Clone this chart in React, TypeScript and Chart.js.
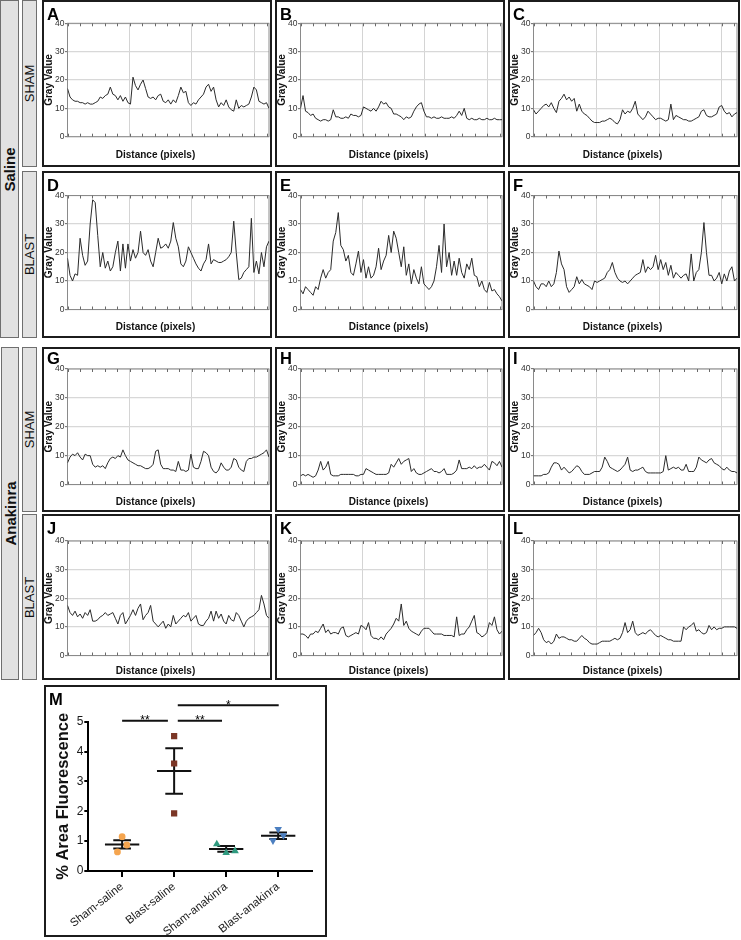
import React, { useEffect, useRef } from "react";
import { Chart, registerables } from "chart.js";

Chart.register(...registerables);

const SANS = '"Liberation Sans", Arial, Helvetica, sans-serif';

// ---------- intensity profiles (gray value along the line) ----------
const PROFILE_A = [
  17, 14, 13, 12.5, 12.5, 12, 12, 11.5, 12, 11.5,
  11.5, 12, 12.5, 14, 13.5, 14.5, 15, 17.5, 15, 14.5,
  13, 14.5, 12.5, 14, 12, 11.5, 21, 18, 16.5, 18.5,
  20, 17, 14, 13.5, 14, 13, 14.5, 15, 12.5, 12,
  13, 11.5, 13, 12, 14.5, 17.5, 15.5, 16, 12, 11,
  12, 11.5, 13, 14, 15, 17.5, 18.5, 16, 17.5, 13,
  10.5, 12, 11, 13, 10.5, 9.5, 9, 13, 10, 11,
  10.5, 11, 11.5, 14, 17.5, 16.5, 12.5, 12, 11.5, 12,
  10,
];
const PROFILE_B = [
  10, 14.5, 9, 8.5, 7.5, 8, 6.5, 6, 5.5, 6,
  6, 5.5, 6, 9.5, 7, 7, 6.5, 6.5, 7, 6.5,
  8, 7.5, 7.5, 7, 7.5, 10.5, 10, 9.5, 9, 10,
  9, 10.5, 12.5, 11.5, 12, 10.5, 10, 8, 8, 7.5,
  7, 6, 7, 6.5, 7, 9, 10.5, 11.5, 12, 9,
  7, 7, 6.5, 7, 6.5, 6.5, 7, 6.5, 6.5, 6.5,
  7, 6.5, 7.5, 9, 7.5, 10, 6.5, 6, 6.5, 6,
  6, 6.5, 6, 6, 6.5, 6, 6, 6.5, 6, 6,
  6,
];
const PROFILE_C = [
  9.5, 8, 9, 10, 11, 11.5, 10.5, 12, 10, 8.5,
  12.5, 13.5, 15, 13, 14, 12.5, 13.5, 9, 11.5, 9,
  8, 7.5, 6.5, 5.5, 5, 5, 5, 5.5, 5.5, 6,
  6.5, 6, 5, 4.5, 6, 9.5, 8, 9, 8.5, 10,
  12.5, 8, 7, 6, 7, 9, 8, 7, 6, 6.5,
  6.5, 6, 5.5, 6, 11.5, 6, 7.5, 7, 6.5, 6,
  6, 5.5, 5.5, 6, 6.5, 7, 9, 9.5, 7.5, 7,
  7, 7.5, 8, 10.5, 11, 9, 8, 8.5, 7, 8,
  8.5,
];
const PROFILE_D = [
  18, 12, 10, 12.5, 12, 25, 19, 15.5, 17, 30,
  38.5, 37.5, 26, 15, 20, 14.5, 17, 13.5, 15, 20,
  24, 13.5, 23, 14.5, 23, 17, 21, 18, 20, 27.5,
  20, 19, 21, 17, 15, 20, 25, 21.5, 22, 23,
  21.5, 24, 30.5, 25, 22, 16, 15, 17, 22, 20,
  18, 16, 14.5, 13.5, 16, 17.5, 23, 16, 17.5, 17,
  16.5, 16.5, 17, 17.5, 18.5, 20, 31, 20, 10.5, 11,
  13, 14, 15, 32, 13, 17, 12.5, 20, 15, 22,
  24,
];
const PROFILE_E = [
  7, 5.5, 8, 7, 6, 5, 8, 7, 11, 14,
  11, 13, 14, 24, 27, 34, 22.5, 21, 17, 19,
  13, 12, 16, 20.5, 13, 17.5, 11, 15, 11, 12,
  15, 21.5, 14, 17, 19, 26, 20, 27.5, 25, 20,
  15, 22, 12, 16, 9, 14, 11, 9, 15, 9,
  8, 7, 8, 10, 15, 22.5, 13, 30, 15, 20,
  12, 17, 12, 18, 13, 11, 16, 14, 18, 12,
  11.5, 8, 10, 7, 6, 9.5, 6.5, 7, 5.5, 4.5,
  3,
];
const PROFILE_F = [
  10, 8, 7, 9, 9, 8, 10, 8, 9, 13,
  20.5, 16, 14, 8, 6, 7, 8, 11.5, 9, 10.5,
  9, 8.5, 8, 7, 10, 9.5, 10, 10.5, 11, 13,
  14, 16.5, 13, 11, 10, 9.5, 10, 9, 10, 11,
  12, 12.5, 13, 17.5, 13, 15, 14, 15, 19, 14,
  17.5, 14, 16.5, 12, 15.5, 11, 13, 12, 11, 12,
  12.5, 10, 19.5, 10, 13, 14, 20, 30.5, 20, 12,
  12, 10, 11, 13, 9, 12.5, 10, 13.5, 15, 10,
  11,
];
const PROFILE_G = [
  7.5, 9.5, 10.5, 10, 11, 9.5, 8.5, 10.5, 10, 10,
  7, 6, 6.5, 6, 6.5, 5.5, 7.5, 9, 9.5, 9,
  10, 9.5, 12, 10, 8.5, 8, 7.5, 7, 6.5, 6.5,
  6, 5.5, 5.5, 6, 7, 11.5, 12, 7, 5.5, 5.5,
  5.5, 5, 5, 4.5, 8, 5, 5, 4.5, 5, 10.5,
  6, 5.5, 5.5, 8, 11.5, 11, 10, 6, 4.5, 4,
  5, 7.5, 6, 5, 5, 6, 9, 8.5, 6, 5,
  4.5, 8, 9, 9, 9.5, 9.5, 10, 10.5, 11, 12,
  9.5,
];
const PROFILE_H = [
  3, 3.5, 3, 3.5, 3, 2.5, 3, 5, 8, 5,
  6, 8, 3.5, 3, 3, 3, 3.5, 3.5, 3.5, 3.5,
  3.5, 3.5, 3, 3, 3.5, 3.5, 5.5, 5, 4.5, 4,
  3.5, 3.5, 3.5, 3.5, 3.5, 4, 7, 6, 7.5, 9,
  7, 8, 8.5, 9, 4.5, 5.5, 4, 3.5, 3.5, 4,
  4.5, 5, 5.5, 4.5, 4.5, 4, 4.5, 5.5, 3.5, 3.5,
  3.5, 4, 5, 8.5, 5.5, 5.5, 5.5, 6, 5.5, 6.5,
  5.5, 6, 6, 7, 6, 5, 8, 7.5, 6.5, 8,
  6,
];
const PROFILE_I = [
  3, 3, 3, 3, 3.5, 3.5, 4, 6, 7.5, 7.5,
  7, 5, 6, 5, 4, 4.5, 5.5, 6.5, 6, 4.5,
  3.5, 3.5, 3.5, 4, 4.5, 4.5, 4.5, 6, 9.5, 8,
  6, 5.5, 5, 4.5, 5, 6, 7, 9.5, 5, 4.5,
  5, 5, 5.5, 6, 4.5, 4, 4, 4, 4, 4,
  4, 4.5, 10, 5, 5.5, 6, 5.5, 6, 5, 5,
  7, 4.5, 4.5, 4.5, 6, 9.5, 8.5, 8, 7.5, 8.5,
  9, 7.5, 7, 6.5, 5.5, 5, 6, 5, 4.5, 4.5,
  4,
];
const PROFILE_J = [
  17.5, 15, 14, 15.5, 13.5, 14.5, 13, 15, 14, 16,
  12, 12, 12.5, 13.5, 14, 15, 14, 14.5, 15, 13,
  11, 14, 15, 11, 12.5, 14, 16, 14, 16.5, 18,
  12.5, 14, 15, 17.5, 12, 11, 10, 11, 12, 9.5,
  11, 10, 14, 11, 12, 13, 14, 13.5, 15, 12,
  13, 14, 11, 10.5, 10.5, 12, 13, 15.5, 12, 15.5,
  13, 14.5, 12, 11, 14, 12.5, 12, 15, 14, 12,
  10, 12, 13, 13.5, 14, 15, 16, 21, 18, 14,
  13,
];
const PROFILE_K = [
  7.5, 7.5, 7, 6, 7.5, 7.5, 8.5, 8, 9.5, 11,
  8, 9, 7.5, 8, 8, 7.5, 9.5, 10, 7, 6.5,
  7, 7.5, 8, 7.5, 10.5, 10, 9, 11.5, 7, 6,
  6, 5.5, 6.5, 5.5, 7.5, 8.5, 9.5, 11, 13, 12,
  18, 10.5, 12, 9.5, 8.5, 8, 7.5, 7, 8.5, 9.5,
  9.5, 9.5, 8.5, 7.5, 7.5, 7.5, 7.5, 7, 7, 7,
  7, 6.5, 13.5, 7, 7.5, 7.5, 9, 10, 12, 14,
  8, 7.5, 6.5, 7, 8, 11.5, 10.5, 13.5, 9, 7.5,
  8.5,
];
const PROFILE_L = [
  7, 8, 9.5, 8, 5.5, 4.5, 5, 4, 5, 7.5,
  6, 6.5, 6.5, 6, 5.5, 5.5, 5, 5, 6, 7,
  6, 5.5, 4.5, 4, 4, 4, 4.5, 5, 5, 5,
  5, 5.5, 6, 5.5, 6, 8, 11.5, 8, 9, 12,
  8, 7, 7.5, 8, 7.5, 8.5, 9, 8, 7, 6.5,
  7, 6.5, 6, 5.5, 5.5, 5, 5, 5, 5, 10,
  9, 10, 10.5, 11.5, 8.5, 9, 8, 7.5, 8, 10.5,
  9, 10, 9, 9.5, 9.5, 10, 10, 10, 10, 10,
  9.5,
];

const PANEL_LETTERS = ["A", "B", "C", "D", "E", "F", "G", "H", "I", "J", "K", "L"];
const PROFILES = [
  PROFILE_A, PROFILE_B, PROFILE_C, PROFILE_D, PROFILE_E, PROFILE_F,
  PROFILE_G, PROFILE_H, PROFILE_I, PROFILE_J, PROFILE_K, PROFILE_L,
];

const DIST_MAX = 324;
const Y_TICKS = [0, 10, 20, 30, 40];
const X_MAJOR = [0, 100, 200, 300];
const X_MINOR = [20, 40, 60, 80, 120, 140, 160, 180, 220, 240, 260, 280, 320];

// ---------- panel M data ----------
const GROUPS = ["Sham-saline", "Blast-saline", "Sham-anakinra", "Blast-anakinra"];
const SHAM_SALINE = [1.15, 0.87, 0.64];
const BLAST_SALINE = [4.52, 3.6, 1.93];
const SHAM_ANAKINRA = [0.9, 0.61, 0.67];
const BLAST_ANAKINRA = [1.4, 1.19, 1.02];
const SHAM_SALINE_DX = [0, 0.09, -0.09];
const BLAST_SALINE_DX = [0, 0, 0];
const SHAM_ANAKINRA_DX = [-0.18, 0, 0.17];
const BLAST_ANAKINRA_DX = [0, 0.1, -0.1];
const GROUP_MEANS = [0.89, 3.35, 0.74, 1.18];
const GROUP_SEMS = [0.14, 0.76, 0.095, 0.11];
const M_Y_TICKS = [0, 1, 2, 3, 4, 5];
const SIG_FROM = [0, 1.07, 1.07];
const SIG_TO = [0.88, 1.92, 3.01];
const SIG_Y = [5.03, 5.03, 5.55];
const SIG_LABELS = ["**", "**", "*"];

// ---------- layout ----------
const COL_X = [42, 275, 508];
const COL_W = [230, 230, 232];
const ROW_Y = [0, 171, 347, 514];
const ROW_H = [167, 167, 165, 166];
const ROW_PLOT_TOP = [23.3, 24.5, 22, 27];
const ROW_PLOT_BOTTOM = [136.7, 138.5, 137.5, 141.5];
const ROW_TITLE_CENTER = [12, 10.3, 9.7, 8.3];
const ROW_LETTER_BASE = [20, 20, 16.5, 20];

const framePlugin = {
  id: "frame",
  beforeDatasetsDraw(chart: any) {
    const { ctx, chartArea: a, scales } = chart;
    ctx.save();
    ctx.strokeStyle = "#8a8a8a";
    ctx.lineWidth = 1;
    ctx.strokeRect(a.left, a.top, a.right - a.left, a.bottom - a.top);
    ctx.strokeStyle = "#6a6a6a";
    ctx.beginPath();
    [...X_MAJOR, ...X_MINOR].forEach((v) => {
      const px = Math.round(scales.x.getPixelForValue(v)) + 0.5;
      ctx.moveTo(px, a.bottom);
      ctx.lineTo(px, a.bottom - 3);
      ctx.moveTo(px, a.top);
      ctx.lineTo(px, a.top + 3);
    });
    ctx.stroke();
    ctx.restore();
  },
  afterDraw(chart: any, _args: any, opts: any) {
    const { ctx } = chart;
    ctx.save();
    ctx.fillStyle = "#000";
    ctx.font = `bold 16.5px ${SANS}`;
    ctx.textBaseline = "alphabetic";
    ctx.textAlign = "left";
    ctx.fillText(opts.letter, 5, opts.baseline);
    ctx.restore();
  },
};

function ProfilePanel({ index }: { index: number }) {
  const ref = useRef<HTMLCanvasElement>(null);
  const row = Math.floor(index / 3);
  const col = index % 3;
  const w = COL_W[col];
  const h = ROW_H[row];
  useEffect(() => {
    const values = PROFILES[index];
    const plotTop = ROW_PLOT_TOP[row];
    const bottomPad = h - ROW_PLOT_BOTTOM[row];
    const titleSize = 10;
    const titleLH = titleSize * 1.2;
    const titlePadBottom = ROW_TITLE_CENTER[row] - titleLH / 2;
    const xAxisH = bottomPad - titleLH - titlePadBottom;
    const points = values.map((v, i) => ({ x: (i * DIST_MAX) / (values.length - 1), y: v }));
    const chart = new Chart(ref.current as HTMLCanvasElement, {
      type: "line",
      data: {
        datasets: [
          {
            data: points,
            borderColor: "#2b2b2b",
            borderWidth: 1,
            pointRadius: 0,
            tension: 0,
            fill: false,
          },
        ],
      },
      options: {
        animation: false,
        responsive: false,
        maintainAspectRatio: false,
        events: [],
        layout: { padding: { left: 0, right: 3, top: plotTop, bottom: 0 } },
        plugins: {
          legend: { display: false },
          tooltip: { enabled: false },
          title: {
            display: true,
            position: "bottom",
            text: "Distance (pixels)",
            color: "#111",
            font: { family: SANS, weight: "bold", size: titleSize, lineHeight: 1.2 },
            padding: { top: 0, bottom: titlePadBottom },
          },
          frame: { letter: PANEL_LETTERS[index], baseline: ROW_LETTER_BASE[row] },
        } as any,
        scales: {
          x: {
            type: "linear",
            min: 0,
            max: DIST_MAX,
            afterBuildTicks: (ax: any) => {
              ax.ticks = X_MAJOR.map((v) => ({ value: v }));
            },
            ticks: { display: false },
            grid: { color: "#d4d4d4", lineWidth: 1, drawTicks: false },
            border: { display: false },
            afterFit: (ax: any) => {
              ax.height = xAxisH;
            },
          },
          y: {
            min: 0,
            max: 40,
            afterBuildTicks: (ax: any) => {
              ax.ticks = Y_TICKS.map((v) => ({ value: v }));
            },
            ticks: { font: { family: SANS, size: 8.5 }, color: "#333", padding: 0.5 },
            grid: { color: "#d8d8d8", lineWidth: 1.3, tickLength: 2.5, tickColor: "#666", tickWidth: 1 },
            border: { display: false },
            title: {
              display: true,
              text: "Gray Value",
              color: "#111",
              font: { family: SANS, weight: "bold", size: 10, lineHeight: 1.2 },
              padding: { top: 1, bottom: 0 },
            },
            afterFit: (ax: any) => {
              ax.width = 25.5;
            },
          },
        },
      } as any,
      plugins: [framePlugin],
    });
    return () => chart.destroy();
  }, []);
  return (
    <>
      <canvas
        ref={ref}
        width={w}
        height={h}
        style={{ position: "absolute", left: COL_X[col], top: ROW_Y[row], width: w, height: h }}
      />
      <div
        style={{
          position: "absolute",
          left: COL_X[col],
          top: ROW_Y[row],
          width: w,
          height: h,
          border: "2px solid #1c1c1c",
          boxSizing: "border-box",
          pointerEvents: "none",
        }}
      />
    </>
  );
}

const sigPlugin = {
  id: "sigStars",
  afterDraw(chart: any) {
    const { ctx, scales } = chart;
    ctx.save();
    ctx.fillStyle = "#000";
    ctx.font = `12px ${SANS}`;
    ctx.textAlign = "center";
    ctx.textBaseline = "alphabetic";
    SIG_LABELS.forEach((lab, i) => {
      const x = scales.x.getPixelForValue((SIG_FROM[i] + SIG_TO[i]) / 2);
      const y = scales.y.getPixelForValue(SIG_Y[i]);
      ctx.fillText(lab, x, y + 3.5);
    });
    ctx.font = `bold 16.5px ${SANS}`;
    ctx.textAlign = "left";
    ctx.fillText("M", 5, 20);
    ctx.restore();
  },
};

const M_LEFT = 44;
const M_TOP = 685;
const M_W = 283;
const M_H = 252;

function PanelM() {
  const ref = useRef<HTMLCanvasElement>(null);
  useEffect(() => {
    const groupVals = [SHAM_SALINE, BLAST_SALINE, SHAM_ANAKINRA, BLAST_ANAKINRA];
    const groupDx = [SHAM_SALINE_DX, BLAST_SALINE_DX, SHAM_ANAKINRA_DX, BLAST_ANAKINRA_DX];
    const markerStyle = ["circle", "rect", "triangle", "triangle"];
    const markerColor = ["#f5a54f", "#7b3626", "#2f9a7f", "#4c7fc0"];
    const markerRadius = [3.4, 4.4, 4.4, 4.4];
    const markerRot = [0, 0, 0, 180];
    const MEAN_HALF = 0.33;
    const CAP_HALF = 0.17;

    const markerSets = groupVals.map((vals, g) => ({
      type: "scatter",
      data: vals.map((v, k) => ({ x: g + groupDx[g][k], y: v })),
      pointStyle: markerStyle[g],
      pointRadius: markerRadius[g],
      pointRotation: markerRot[g],
      backgroundColor: markerColor[g],
      borderColor: markerColor[g],
      borderWidth: 0,
      showLine: false,
    }));

    const errSets = GROUP_MEANS.map((m, g) => {
      const s = GROUP_SEMS[g];
      return {
        type: "scatter",
        data: [
          { x: g - MEAN_HALF, y: m },
          { x: g + MEAN_HALF, y: m },
          { x: g, y: null },
          { x: g - CAP_HALF, y: m + s },
          { x: g + CAP_HALF, y: m + s },
          { x: g, y: null },
          { x: g - CAP_HALF, y: m - s },
          { x: g + CAP_HALF, y: m - s },
          { x: g, y: null },
          { x: g, y: m - s },
          { x: g, y: m + s },
        ],
        showLine: true,
        spanGaps: false,
        borderColor: "#111",
        borderWidth: 2,
        pointRadius: 0,
      };
    });

    const sigSets = SIG_Y.map((y, i) => ({
      type: "scatter",
      data: [
        { x: SIG_FROM[i], y },
        { x: SIG_TO[i], y },
      ],
      showLine: true,
      borderColor: "#111",
      borderWidth: 2,
      pointRadius: 0,
      clip: false,
    }));

    const chart = new Chart(ref.current as HTMLCanvasElement, {
      type: "scatter",
      data: { datasets: [...markerSets, ...errSets, ...sigSets] as any },
      options: {
        animation: false,
        responsive: false,
        maintainAspectRatio: false,
        events: [],
        layout: { padding: { left: 0, right: 15, top: 36.7, bottom: 0 } },
        plugins: { legend: { display: false }, tooltip: { enabled: false } },
        scales: {
          x: {
            type: "linear",
            min: -0.65,
            max: 3.65,
            afterBuildTicks: (ax: any) => {
              ax.ticks = GROUPS.map((_, i) => ({ value: i }));
            },
            ticks: {
              callback: (v: any) => GROUPS[v] ?? "",
              font: { family: SANS, size: 11.5 },
              color: "#1a1a1a",
              minRotation: 38,
              maxRotation: 38,
              autoSkip: false,
              padding: 3,
            },
            grid: {
              drawOnChartArea: false,
              drawTicks: true,
              tickLength: 6,
              tickColor: "#000",
              tickWidth: 2,
              color: "#000",
              lineWidth: 2,
            },
            border: { display: true, color: "#000", width: 2 },
            afterFit: (ax: any) => {
              ax.height = 66;
            },
          },
          y: {
            min: 0,
            max: 5,
            afterBuildTicks: (ax: any) => {
              ax.ticks = M_Y_TICKS.map((v) => ({ value: v }));
            },
            ticks: { font: { family: SANS, size: 12 }, color: "#1a1a1a", padding: 1 },
            grid: {
              drawOnChartArea: false,
              drawTicks: true,
              tickLength: 4,
              tickColor: "#000",
              tickWidth: 2,
              color: "#000",
              lineWidth: 2,
            },
            border: { display: true, color: "#000", width: 2 },
            title: {
              display: true,
              text: "% Area Fluorescence",
              color: "#111",
              font: { family: SANS, size: 16.5, weight: "bold", lineHeight: 1.2 },
              padding: { top: 9.4, bottom: 0 },
            },
            afterFit: (ax: any) => {
              ax.width = 44.3;
            },
          },
        },
      } as any,
      plugins: [sigPlugin],
    });
    return () => chart.destroy();
  }, []);
  return (
    <>
      <canvas
        ref={ref}
        width={M_W}
        height={M_H}
        style={{ position: "absolute", left: M_LEFT, top: M_TOP, width: M_W, height: M_H }}
      />
      <div
        style={{
          position: "absolute",
          left: M_LEFT,
          top: M_TOP,
          width: M_W,
          height: M_H,
          border: "2px solid #1c1c1c",
          boxSizing: "border-box",
          pointerEvents: "none",
        }}
      />
    </>
  );
}

function SideLabel({
  text,
  left,
  top,
  width,
  height,
  bold,
  size,
}: {
  text: string;
  left: number;
  top: number;
  width: number;
  height: number;
  bold: boolean;
  size: number;
}) {
  return (
    <div
      style={{
        position: "absolute",
        left,
        top,
        width,
        height,
        background: "#e2e2e2",
        border: "1.5px solid #6f6f6f",
        boxSizing: "border-box",
        display: "flex",
        alignItems: "center",
        justifyContent: "center",
        overflow: "visible",
      }}
    >
      <div
        style={{
          transform: "rotate(-90deg)",
          whiteSpace: "nowrap",
          fontFamily: SANS,
          fontWeight: bold ? "bold" : "normal",
          fontSize: size,
          color: "#111",
          lineHeight: 1,
        }}
      >
        {text}
      </div>
    </div>
  );
}

export default function App() {
  return (
    <div style={{ position: "absolute", left: 0, top: 0, width: 741, height: 940, background: "#fff" }}>
      <SideLabel text="Saline" left={0} top={0} width={19} height={338} bold size={15} />
      <SideLabel text="Anakinra" left={1} top={347} width={18} height={333} bold size={15} />
      <SideLabel text="SHAM" left={22} top={0} width={15} height={167} bold={false} size={13} />
      <SideLabel text="BLAST" left={22} top={171} width={15} height={167} bold={false} size={13} />
      <SideLabel text="SHAM" left={22} top={347} width={15} height={165} bold={false} size={13} />
      <SideLabel text="BLAST" left={22} top={514} width={15} height={166} bold={false} size={13} />
      {PANEL_LETTERS.map((_, i) => (
        <ProfilePanel key={i} index={i} />
      ))}
      <PanelM />
    </div>
  );
}
